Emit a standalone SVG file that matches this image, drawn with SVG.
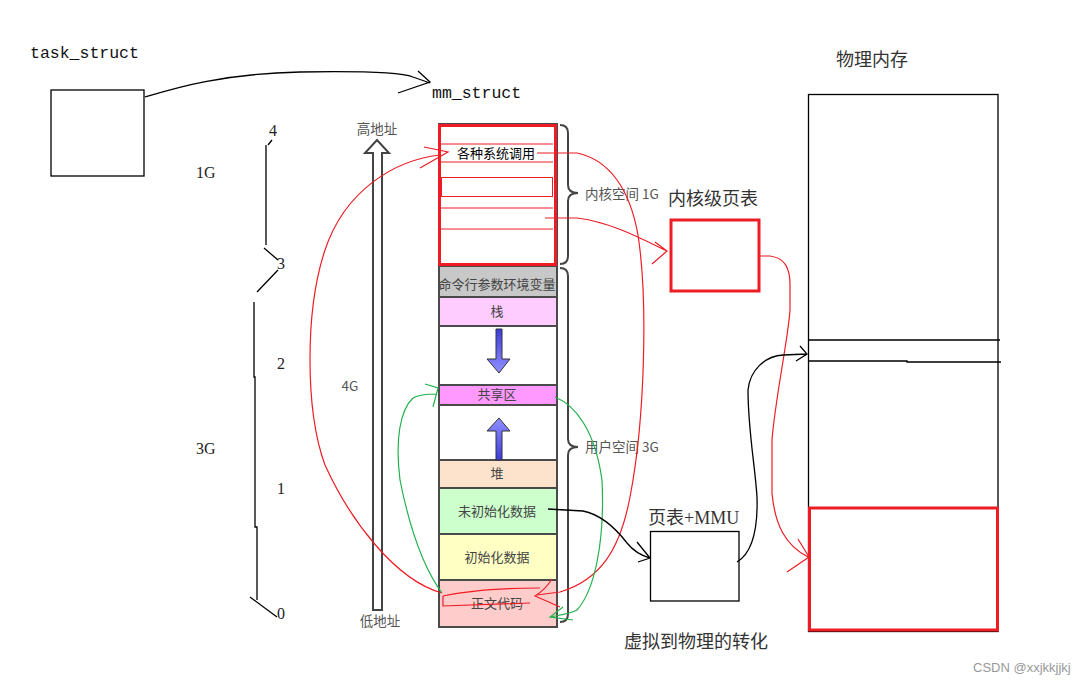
<svg xmlns="http://www.w3.org/2000/svg" width="1092" height="686" viewBox="0 0 1092 686">
<defs>
<linearGradient id="blue" x1="0" y1="0" x2="0" y2="1"><stop offset="0" stop-color="#3c3ce0"/><stop offset="1" stop-color="#9090ff"/></linearGradient>
<linearGradient id="blueUp" x1="0" y1="1" x2="0" y2="0"><stop offset="0" stop-color="#3c3ce0"/><stop offset="1" stop-color="#9090ff"/></linearGradient>
</defs>
<style>
.mono{font-family:"Liberation Mono",monospace;font-size:16.5px;fill:#111}
.num{font-family:"Liberation Serif",serif;font-size:16px;fill:#222}
.cn{font-family:"Liberation Serif","Noto Sans CJK SC",serif;font-size:18px;fill:#333}
.col{font-family:"Noto Sans CJK SC",sans-serif;font-size:13px;fill:#444;text-anchor:middle}
.lab{font-family:"Noto Sans CJK SC",sans-serif;font-size:13.5px;fill:#555}
.box{fill:#fff;stroke:#000;stroke-width:1.3}
.rbox{fill:none;stroke:#ee1c24;stroke-width:3}
.band{stroke:#4a4a4a;stroke-width:2}
.rl{fill:none;stroke:#ee1c24;stroke-width:1}
.red{fill:none;stroke:#ee1c24;stroke-width:1.2}
.grn{fill:none;stroke:#22b14c;stroke-width:1.2}
.blk{fill:none;stroke:#000;stroke-width:1.3}
.brace{fill:none;stroke:#444;stroke-width:2}
</style>
<rect width="1092" height="686" fill="#fff"/>

<g id="task_struct">
<text class="mono" x="30" y="58">task_struct</text>
<rect class="box" x="51" y="90" width="93" height="86"/>
</g>

<g id="scale">
<path class="blk" d="M268,145 L272,140 M266,145 L266,245 M264,248 L278,260 M278,270 L257,292 M254,302 L254,377 L255,377 L255,527 L257,527 L257,600 M250,597 L277,617" stroke-width="1"/>
<text class="num" x="269" y="136">4</text>
<text class="num" x="196" y="178">1G</text>
<text class="num" x="277" y="269">3</text>
<text class="num" x="277" y="369">2</text>
<text class="num" x="196" y="454">3G</text>
<text class="num" x="277" y="494">1</text>
<text class="num" x="277" y="619">0</text>
</g>

<g id="address_arrow">
<path d="M373,610 L373,153 L365,153 L377,140 L389,153 L382,153 L382,610 Z" fill="#fff" stroke="#444" stroke-width="2"/>
<text class="lab" x="377" y="134" text-anchor="middle">高地址</text>
<text class="lab" x="380" y="626" text-anchor="middle">低地址</text>
<text class="lab" x="350" y="391" text-anchor="middle">4G</text>
</g>

<g id="mm_struct">
<text class="mono" x="432" y="98">mm_struct</text>
<rect x="439" y="124" width="118" height="503" fill="#fff" stroke="#4a4a4a" stroke-width="2"/>
<rect class="band" x="439" y="266" width="118" height="31" fill="#c8c8c8"/>
<rect class="band" x="439" y="297" width="118" height="29" fill="#ffccff"/>
<rect class="band" x="439" y="385" width="118" height="20" fill="#ff99ff"/>
<rect class="band" x="439" y="460" width="118" height="28" fill="#fde3cc"/>
<rect class="band" x="439" y="488" width="118" height="46" fill="#ccffcc"/>
<rect class="band" x="439" y="534" width="118" height="46" fill="#ffffc4"/>
<rect class="band" x="439" y="580" width="118" height="47" fill="#ffcccc"/>
<path d="M496,329 L502,329 L502,359 L510,359 L499,373 L487,359 L496,359 Z" fill="url(#blue)" stroke="#333" stroke-width="1"/>
<path d="M496,460 L502,460 L502,431 L510,431 L499,418 L487,431 L496,431 Z" fill="url(#blueUp)" stroke="#333" stroke-width="1"/>
<text class="col" x="497" y="289" fill="#555">命令行参数环境变量</text>
<text class="col" x="497" y="316">栈</text>
<text class="col" x="497" y="399">共享区</text>
<text class="col" x="497" y="478">堆</text>
<text class="col" x="497" y="516">未初始化数据</text>
<text class="col" x="497" y="562">初始化数据</text>
<text class="col" x="497" y="608">正文代码</text>
<rect class="rbox" x="439.5" y="125.5" width="116" height="139"/>
<path class="rl" d="M441,144 L553,144 M441,162 L553,162 M441,208 L553,208 M441,229 L553,229"/>
<rect class="rl" x="441.5" y="177.5" width="111" height="19"/>
<text class="col" x="496" y="158" style="fill:#000">各种系统调用</text>
<path class="brace" d="M560,125 Q568,125 568,133 L568,185 Q568,193 578,193 Q568,193 568,201 L568,256 Q568,264 560,264"/>
<path class="brace" d="M560,268 Q568,268 568,276 L568,439 Q568,447 578,447 Q568,447 568,455 L568,614 Q568,622 560,622"/>
<text class="lab" x="585" y="199">内核空间 1G</text>
<text class="lab" x="585" y="452">用户空间 3G</text>
</g>

<g id="kernel_page_table">
<text class="cn" x="668" y="205">内核级页表</text>
<rect class="rbox" x="671" y="220" width="88" height="71"/>
</g>

<g id="page_table_mmu">
<text class="cn" x="648" y="524">页表+MMU</text>
<rect class="box" x="650.5" y="531.5" width="88.5" height="69.5"/>
</g>

<g id="physical_memory">
<text class="cn" x="836" y="66">物理内存</text>
<rect class="box" x="808.5" y="94.5" width="189.5" height="537"/>
<path class="blk" d="M808,340 L1000,340 M808,361 L907,361 L907,362 L1001,362"/>
<rect class="rbox" x="809.5" y="508" width="188" height="122"/>
</g>

<text class="cn" x="624" y="648">虚拟到物理的转化</text>
<text x="973" y="672" font-family="Liberation Sans,sans-serif" font-size="13" fill="#999">CSDN @xxjkkjjkj</text>

<g id="connectors">
<path class="blk" d="M145,97 C175,88 220,74 300,72 C360,71 400,72 413,77 L430,83 M418,71 L430,82 L398,93"/>
<path class="red" d="M442,593 C395,580 350,520 325,465 C305,410 305,310 325,250 C345,190 395,160 440,155 M424,147 L448,152 L420,168"/>
<path class="red" d="M443,596 C470,590 510,588 540,588 M443,596 L443,606 L530,603 M552,579 Q545,590 535,596 L560,607"/>
<path class="red" d="M537,153 L577,153 C610,160 630,190 638,235 C648,300 645,420 630,497 C620,550 600,580 560,592 L537,595"/>
<path class="red" d="M545,218 L577,218 C610,222 640,238 667,251 M655,242 L667,251 L652,264"/>
<path class="red" d="M758,256 L770,256 C785,258 790,268 790,285 L790,310 C788,340 775,400 772,440 L772,493 C775,525 785,545 808,557 M798,539 L809,557 L787,572"/>
<path class="grn" d="M442,593 C425,570 410,530 400,480 C395,440 400,410 413,398 C420,394 428,394 436,394 M425,384 L438,388 L433,407"/>
<path class="grn" d="M555,397 C575,405 595,430 602,480 C605,540 595,590 577,610 C570,614 560,615 550,617 M563,607 L550,617 L573,620"/>
<path class="blk" d="M548,509 L583,511 C603,515 617,530 627,543 C635,553 643,556 650,558 M637,542 L650,558 L638,562"/>
<path class="blk" d="M737,562 C752,553 758,530 757,497 C755,465 748,430 748,390 C750,370 765,356 783,355 L807,354 M800,346 L807,354 L796,361"/>
</g>
</svg>
